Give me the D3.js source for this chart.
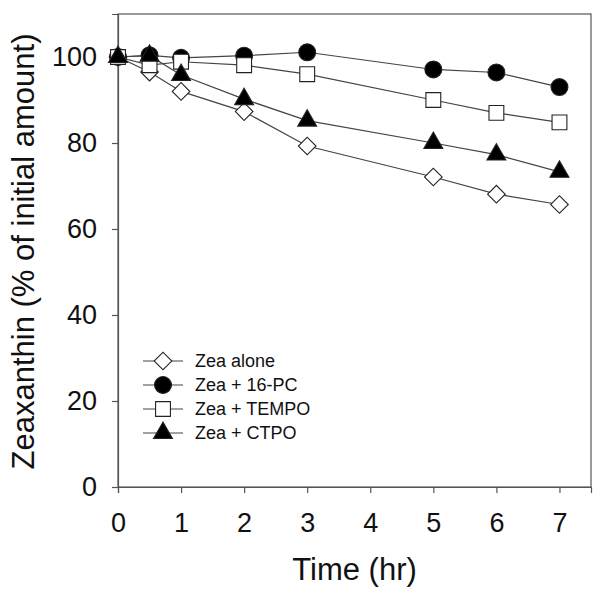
<!DOCTYPE html>
<html>
<head>
<meta charset="utf-8">
<script src="https://cdn.jsdelivr.net/npm/d3@7"></script>
<style>
  html, body { margin: 0; padding: 0; background: #fff; }
  text { font-family: Arial, "Liberation Sans", sans-serif; }
</style>
</head>
<body>
<svg id="chart" width="602" height="595"></svg>
<script>
const times = [0, 0.5, 1, 2, 3, 5, 6, 7];
const zeaAlone = [100, 96.5, 92, 87.3, 79.3, 72.1, 68.1, 65.7];
const zea16PC  = [100, 100.4, 99.8, 100.3, 101.1, 97.1, 96.4, 93];
const zeaTEMPO = [100, 98.1, 98.9, 98.1, 96, 90, 87, 84.8];
const zeaCTPO  = [100, 100.3, 95.8, 90.2, 85.2, 80, 77.3, 73.3];
const seriesNames = ["Zea alone", "Zea + 16-PC", "Zea + TEMPO", "Zea + CTPO"];
const xTicks = [0, 1, 2, 3, 4, 5, 6, 7];
const yTicks = [0, 20, 40, 60, 80, 100];

const series = [
  { name: seriesNames[0], values: zeaAlone, shape: "diamond", fill: "#fff" },
  { name: seriesNames[1], values: zea16PC,  shape: "circle",  fill: "#000" },
  { name: seriesNames[2], values: zeaTEMPO, shape: "square",  fill: "#fff" },
  { name: seriesNames[3], values: zeaCTPO,  shape: "triangle", fill: "#000" }
];

const svg = d3.select("#chart");
const pLeft = 118, pRight = 591, pTop = 14, pBottom = 487;
const x = d3.scaleLinear().domain([0, 7.5]).range([pLeft, pRight]);
const y = d3.scaleLinear().domain([0, 110]).range([pBottom, pTop]);

const axisColor = "#555";

svg.append("rect").attr("x", pLeft).attr("y", pTop)
  .attr("width", pRight - pLeft).attr("height", pBottom - pTop)
  .attr("fill", "none").attr("stroke", axisColor).attr("stroke-width", 1.2);

const xAxis = svg.append("g").attr("transform", `translate(0,${pBottom})`)
  .call(d3.axisBottom(x).tickValues(xTicks).tickSize(6).tickPadding(20).tickFormat(d3.format("d")));
const yAxis = svg.append("g").attr("transform", `translate(${pLeft},0)`)
  .call(d3.axisLeft(y).tickValues(yTicks).tickSize(6).tickPadding(15).tickFormat(d3.format("d")));
[xAxis, yAxis].forEach(g => {
  g.select(".domain").attr("stroke", axisColor).attr("stroke-width", 1.2);
  g.selectAll(".tick line").attr("stroke", axisColor).attr("stroke-width", 1.2);
  g.selectAll(".tick text").attr("font-size", 27).attr("fill", "#111")
    .attr("font-family", "Arial, 'Liberation Sans', sans-serif");
});

svg.append("text").attr("x", (pLeft + pRight) / 2).attr("y", 580)
  .attr("text-anchor", "middle").attr("font-size", 31).attr("fill", "#111")
  .text("Time (hr)");
svg.append("text")
  .attr("transform", `translate(33.5,${(pTop + pBottom) / 2 + 1}) rotate(-90)`)
  .attr("text-anchor", "middle").attr("font-size", 31).attr("fill", "#111")
  .text("Zeaxanthin (% of initial amount)");

const symbolFor = {
  diamond: d3.symbol().type(d3.symbolSquare).size(155),
  circle: d3.symbol().type(d3.symbolCircle).size(225),
  square: d3.symbol().type(d3.symbolSquare).size(220),
  triangle: d3.symbol().type(d3.symbolTriangle).size(155)
};
const rotFor = { diamond: 45, circle: 0, square: 0, triangle: 0 };

const line = d3.line().x((d, i) => x(times[i])).y(d => y(d));

series.forEach(s => {
  svg.append("path").attr("d", line(s.values))
    .attr("fill", "none").attr("stroke", "#444").attr("stroke-width", 1.2);
});
series.forEach(s => {
  svg.append("g").selectAll("path").data(s.values).join("path")
    .attr("d", symbolFor[s.shape])
    .attr("transform", (d, i) => `translate(${x(times[i])},${y(d)}) rotate(${rotFor[s.shape]})`)
    .attr("fill", s.fill).attr("stroke", "#222").attr("stroke-width", 1.1);
});

const legY = [361, 385, 409, 433];
series.forEach((s, i) => {
  const g = svg.append("g");
  g.append("line").attr("x1", 143).attr("x2", 183).attr("y1", legY[i]).attr("y2", legY[i])
    .attr("stroke", "#444").attr("stroke-width", 1.2);
  g.append("path").attr("d", symbolFor[s.shape])
    .attr("transform", `translate(163,${legY[i]}) rotate(${rotFor[s.shape]})`)
    .attr("fill", s.fill).attr("stroke", "#222").attr("stroke-width", 1.1);
  g.append("text").attr("x", 195).attr("y", legY[i]).attr("dy", "0.35em")
    .attr("font-size", 18).attr("fill", "#111").text(s.name);
});
</script>
</body>
</html>
